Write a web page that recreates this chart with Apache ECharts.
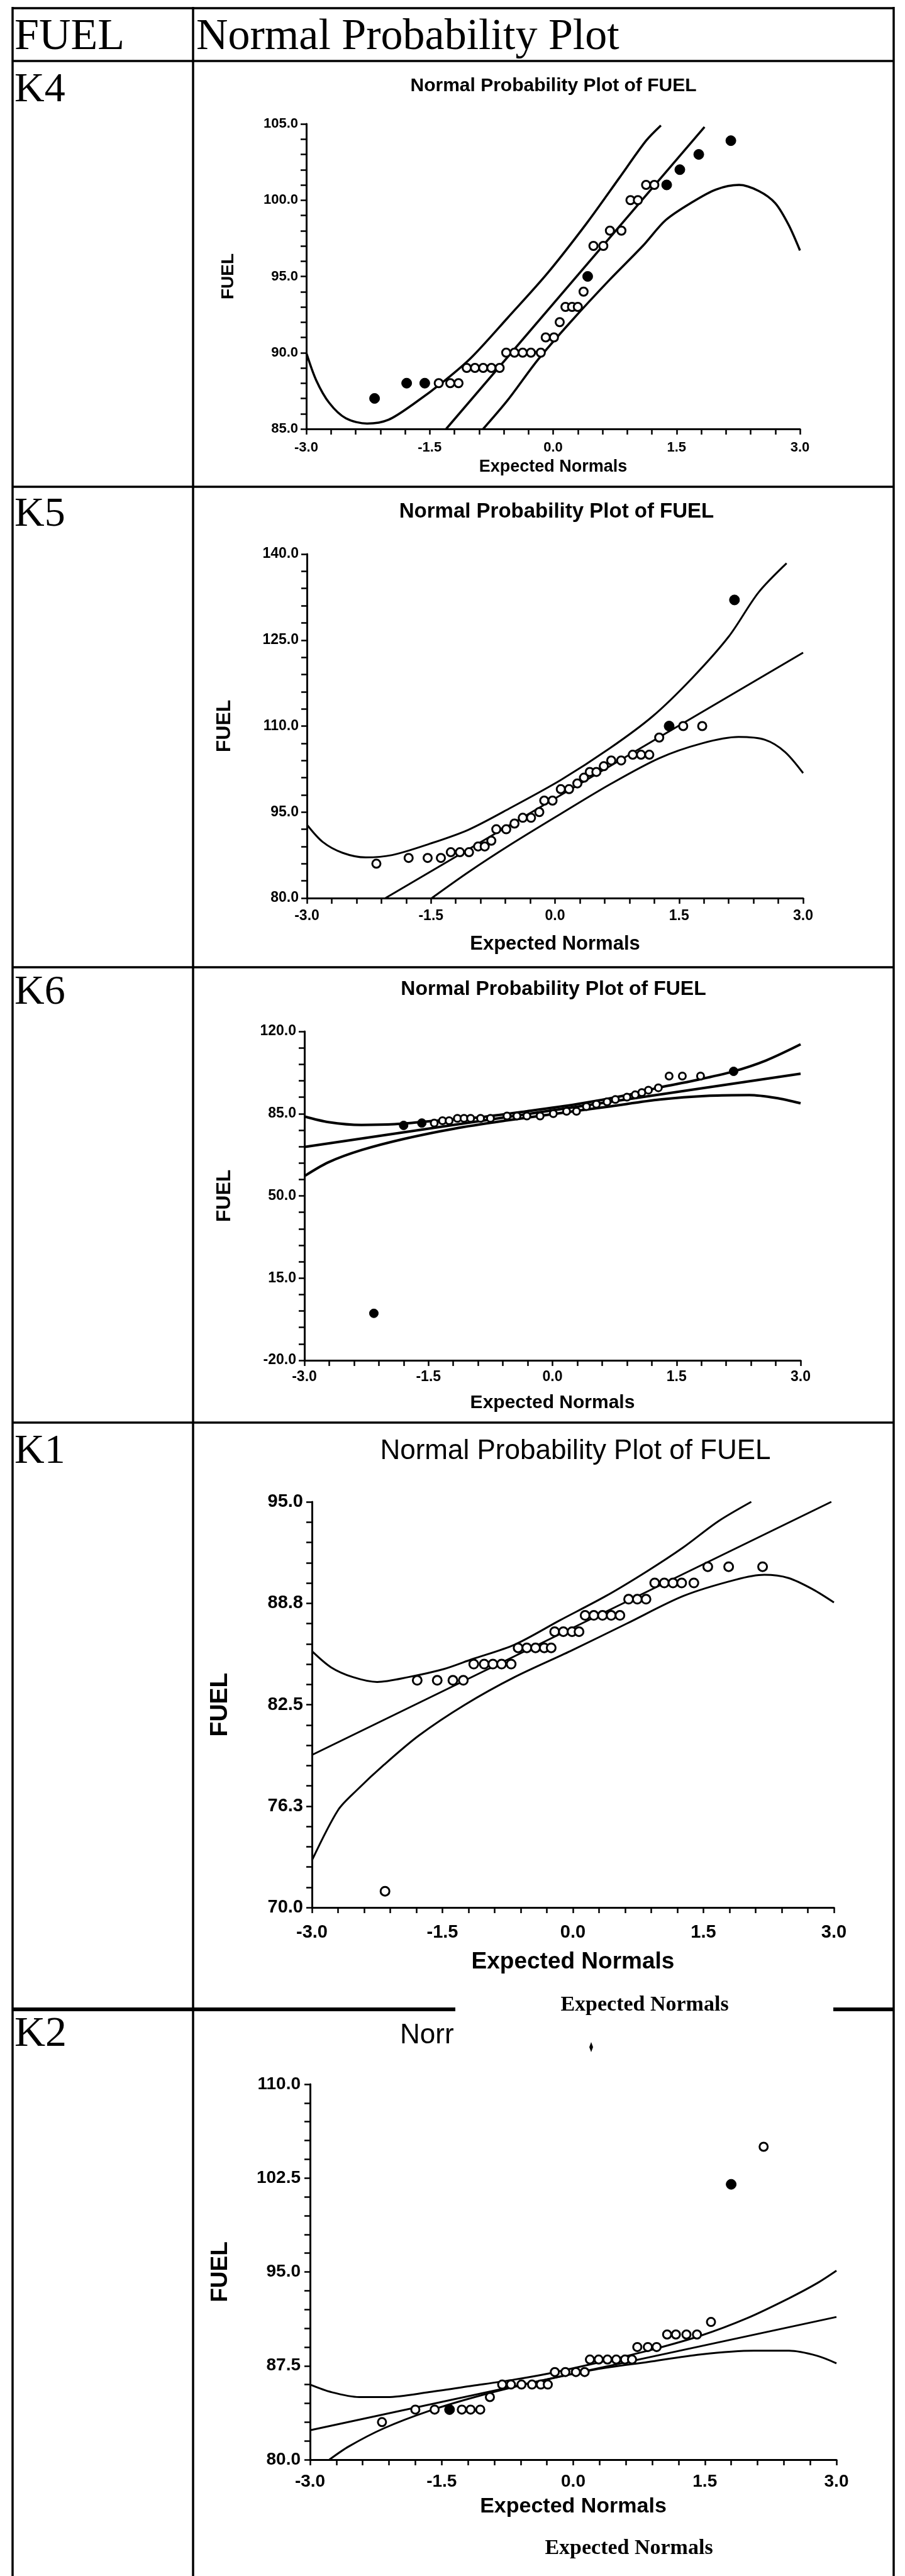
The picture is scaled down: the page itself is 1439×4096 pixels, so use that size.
<!DOCTYPE html>
<html>
<head>
<meta charset="utf-8">
<title>FUEL - Normal Probability Plot</title>
<script src="https://cdn.jsdelivr.net/npm/echarts@6.0.0/dist/echarts.min.js"></script>
<style>
  html, body { margin: 0; padding: 0; background: #fff; }
  #chart { width: 1439px; height: 4096px; }
</style>
</head>
<body>
<div id="chart"></div>
<script>
// values: [expected normal, FUEL]
const xTickLabels = [-3, -1.5, 0, 1.5, 3];

// K4
const k4YTicks = [85, 90, 95, 100, 105];
const k4Open = [[-1.39, 88], [-1.25, 88], [-1.15, 88], [-1.05, 89], [-0.95, 89], [-0.85, 89], [-0.75, 89], [-0.65, 89],
  [-0.57, 90], [-0.47, 90], [-0.37, 90], [-0.27, 90], [-0.15, 90], [-0.09, 91], [0.01, 91], [0.08, 92],
  [0.15, 93], [0.23, 93], [0.30, 93], [0.37, 94], [0.49, 97], [0.61, 97], [0.69, 98], [0.83, 98],
  [0.94, 100], [1.03, 100], [1.13, 101], [1.23, 101]];
const k4Filled = [[-2.17, 87], [-1.78, 88], [-1.56, 88], [0.42, 95], [1.38, 101], [1.54, 102], [1.77, 103], [2.16, 103.9]];
const k4Upper = [[-3, 90.0], [-2.88, 88.2], [-2.72, 86.7], [-2.52, 85.7], [-2.26, 85.35], [-2.0, 85.6], [-1.68, 86.7],
  [-1.31, 88.2], [-0.99, 89.7], [-0.55, 92.3], [-0.07, 95.2], [0.41, 98.5], [0.81, 101.5], [1.13, 103.9], [1.31, 104.9]];
const k4Fit = [[-1.30, 85], [1.84, 104.8]];
const k4Lower = [[-0.85, 85], [-0.55, 86.9], [-0.19, 89.5], [0.21, 92.0], [0.69, 94.8], [1.09, 97.0], [1.37, 98.7],
  [1.70, 99.9], [1.98, 100.7], [2.26, 101.0], [2.50, 100.6], [2.70, 99.8], [2.86, 98.4], [3.0, 96.7]];

// K5
const k5YTicks = [80, 95, 110, 125, 140];
const k5Open = [[-2.16, 86], [-1.77, 87], [-1.54, 87], [-1.38, 87], [-1.26, 88], [-1.15, 88], [-1.04, 88], [-0.93, 89],
  [-0.85, 89], [-0.77, 90], [-0.71, 92], [-0.59, 92], [-0.49, 93], [-0.39, 94], [-0.29, 94], [-0.19, 95],
  [-0.13, 97], [-0.03, 97], [0.07, 99], [0.17, 99], [0.27, 100], [0.35, 101], [0.42, 102], [0.50, 102],
  [0.59, 103], [0.68, 104], [0.80, 104], [0.94, 105], [1.04, 105], [1.14, 105], [1.26, 108], [1.55, 110], [1.78, 110]];
const k5Filled = [[1.38, 110], [2.17, 132]];
const k5Upper = [[-3, 92.8], [-2.81, 89.8], [-2.57, 87.9], [-2.29, 87.1], [-1.97, 87.5], [-1.53, 89.4], [-1.05, 91.9],
  [-0.53, 95.8], [0.07, 100.6], [0.66, 106.1], [1.18, 111.7], [1.66, 118.4], [2.10, 125.6], [2.46, 133.3], [2.80, 138.4]];
const k5Fit = [[-2.05, 80], [3, 122.8]];
const k5Lower = [[-1.49, 80], [-1.05, 84.5], [-0.53, 89.4], [0.07, 94.7], [0.66, 99.8], [1.26, 104.4], [1.78, 107.0],
  [2.22, 108.1], [2.54, 107.6], [2.78, 105.5], [3.0, 101.8]];

// K6
const k6YTicks = [-20, 15, 50, 85, 120];
const k6Open = [[-1.43, 81], [-1.33, 82], [-1.25, 82], [-1.15, 83], [-1.07, 83], [-0.99, 83], [-0.87, 83], [-0.75, 83],
  [-0.55, 84], [-0.43, 84], [-0.31, 84], [-0.15, 84], [0.01, 85], [0.17, 86], [0.29, 86], [0.41, 88],
  [0.53, 89], [0.66, 90], [0.76, 91], [0.90, 92], [1.00, 93], [1.08, 94], [1.16, 95], [1.28, 96],
  [1.41, 101], [1.57, 101], [1.79, 101]];
const k6Filled = [[-2.16, 0], [-1.80, 80], [-1.58, 81], [2.19, 103]];
const k6Upper = [[-3, 83.8], [-2.71, 81.4], [-2.31, 80.2], [-1.91, 80.5], [-1.43, 81.9], [-0.91, 83.3], [-0.31, 86.0],
  [0.29, 89.0], [0.90, 92.9], [1.30, 96.2], [1.70, 99.0], [2.18, 102.9], [2.58, 107.6], [3.0, 114.5]];
const k6Fit = [[-3, 70.8], [3, 102.0]];
const k6Lower = [[-3, 58.4], [-2.71, 64.3], [-2.31, 69.5], [-1.79, 74.3], [-1.19, 78.6], [-0.55, 82.1], [0.09, 85.2],
  [0.70, 88.1], [1.30, 91.0], [1.90, 92.6], [2.38, 92.9], [2.70, 91.7], [3.0, 89.4]];

// K1
const k1YTicks = [70, 76.25, 82.5, 88.75, 95];
const k1Open = [[-2.16, 71], [-1.79, 84], [-1.56, 84], [-1.38, 84], [-1.26, 84], [-1.14, 85], [-1.02, 85], [-0.92, 85],
  [-0.82, 85], [-0.71, 85], [-0.63, 86], [-0.53, 86], [-0.43, 86], [-0.33, 86], [-0.25, 86], [-0.21, 87],
  [-0.11, 87], [-0.01, 87], [0.07, 87], [0.14, 88], [0.24, 88], [0.34, 88], [0.44, 88], [0.54, 88],
  [0.64, 89], [0.74, 89], [0.84, 89], [0.94, 90], [1.05, 90], [1.15, 90], [1.25, 90], [1.39, 90],
  [1.55, 91], [1.79, 91], [2.18, 91]];
const k1Filled = [];
const k1Upper = [[-3, 85.8], [-2.78, 84.8], [-2.53, 84.2], [-2.25, 83.9], [-1.89, 84.2], [-1.48, 84.7], [-1.16, 85.3],
  [-0.67, 86.2], [-0.15, 87.7], [0.38, 89.2], [0.86, 90.75], [1.27, 92.2], [1.67, 93.8], [2.05, 95]];
const k1Fit = [[-3, 79.4], [2.97, 95]];
const k1Lower = [[-3, 72.9], [-2.70, 76.0], [-2.49, 77.2], [-2.17, 78.8], [-1.77, 80.6], [-1.24, 82.5],
  [-0.67, 84.2], [-0.03, 85.8], [0.62, 87.5], [1.27, 89.2], [1.87, 90.2], [2.20, 90.5], [2.48, 90.3], [2.76, 89.6], [3.0, 88.8]];

// K2
const k2YTicks = [80, 87.5, 95, 102.5, 110];
const k2Open = [[-2.18, 83], [-1.80, 84], [-1.58, 84], [-1.27, 84], [-1.17, 84], [-1.06, 84], [-0.95, 85], [-0.81, 86],
  [-0.71, 86], [-0.59, 86], [-0.47, 86], [-0.37, 86], [-0.29, 86], [-0.21, 87], [-0.09, 87], [0.03, 87],
  [0.13, 87], [0.19, 88], [0.29, 88], [0.39, 88], [0.49, 88], [0.59, 88], [0.67, 88], [0.73, 89],
  [0.85, 89], [0.95, 89], [1.07, 90], [1.17, 90], [1.29, 90], [1.41, 90], [1.57, 91], [2.17, 105]];
const k2Filled = [[-1.41, 84], [1.80, 102]];
const k2Upper = [[-3, 86.0], [-2.76, 85.4], [-2.44, 85.0], [-2.12, 85.0], [-1.64, 85.4], [-1.15, 85.9], [-0.67, 86.4],
  [-0.27, 86.9], [0.25, 87.7], [0.85, 88.7], [1.45, 89.9], [1.98, 91.3], [2.46, 92.9], [2.78, 94.1], [3.0, 95.1]];
const k2Fit = [[-3, 82.35], [3, 91.4]];
const k2Lower = [[-2.78, 80], [-2.56, 81.05], [-2.16, 82.5], [-1.64, 83.9], [-1.07, 85.1], [-0.43, 86.2], [0.25, 87.2],
  [0.85, 87.8], [1.45, 88.4], [2.06, 88.7], [2.46, 88.7], [2.78, 88.3], [3.0, 87.7]];

const SANS = '"Liberation Sans", Arial, Helvetica, sans-serif';
const SERIF = '"Liberation Serif", "Times New Roman", serif';

// layout of each panel (px in the 1439 wide page)
const panels = [
  { grid: { left: 487, top: 197, width: 785, height: 485 }, yTicks: k4YTicks, open: k4Open, filled: k4Filled,
    upper: k4Upper, fit: k4Fit, lower: k4Lower, label: 22, xMargin: 19, yMargin: 13, xName: 27, xGap: 47, yName: 28, yGap: 110, sym: 13, lw: 3.5 },
  { grid: { left: 488, top: 881, width: 789, height: 547 }, yTicks: k5YTicks, open: k5Open, filled: k5Filled,
    upper: k5Upper, fit: k5Fit, lower: k5Lower, label: 23, xMargin: 17, yMargin: 13, xName: 31, xGap: 58, yName: 32, yGap: 115, sym: 13, lw: 3 },
  { grid: { left: 484, top: 1640, width: 789, height: 523 }, yTicks: k6YTicks, open: k6Open, filled: k6Filled,
    upper: k6Upper, fit: k6Fit, lower: k6Lower, label: 23, xMargin: 15, yMargin: 13, xName: 30, xGap: 53, yName: 32, yGap: 111, sym: 11, lw: 4 },
  { grid: { left: 496, top: 2388, width: 830, height: 645 }, yTicks: k1YTicks, open: k1Open, filled: k1Filled,
    upper: k1Upper, fit: k1Fit, lower: k1Lower, label: 29, xMargin: 25, yMargin: 14, xName: 37, xGap: 68, yName: 39, yGap: 126, sym: 14, lw: 3 },
  { grid: { left: 493, top: 3314, width: 837, height: 597 }, yTicks: k2YTicks, open: k2Open, filled: k2Filled,
    upper: k2Upper, fit: k2Fit, lower: k2Lower, label: 28, xMargin: 21, yMargin: 15, xName: 34, xGap: 58, yName: 37, yGap: 124, sym: 13, lw: 3 }
];

function steps(from, to, n) {
  const out = [];
  const d = (to - from) / n;
  for (let i = 0; i <= n; i++) out.push(+(from + d * i).toFixed(4));
  return out;
}

const grids = [], xAxes = [], yAxes = [], series = [];

panels.forEach((p, i) => {
  grids.push(Object.assign({ containLabel: false, outerBoundsMode: 'none' }, p.grid));
  const lbl = { color: '#000', fontFamily: SANS, fontWeight: 'bold', fontSize: p.label };
  const axisLine = { onZero: false, lineStyle: { color: '#000', width: 3 } };
  xAxes.push({
    type: 'value', gridIndex: i, min: -3, max: 3,
    axisLine,
    axisTick: { customValues: steps(-3, 3, 20), length: 9, lineStyle: { color: '#000', width: 2.5 } },
    axisLabel: Object.assign({ customValues: xTickLabels, margin: p.xMargin, formatter: (v) => v.toFixed(1) }, lbl),
    splitLine: { show: false },
    name: 'Expected Normals', nameLocation: 'middle', nameGap: p.xGap,
    nameTextStyle: { color: '#000', fontFamily: SANS, fontWeight: 'bold', fontSize: p.xName }
  });
  const yt = p.yTicks;
  yAxes.push({
    type: 'value', gridIndex: i, min: yt[0], max: yt[yt.length - 1],
    axisLine,
    axisTick: { customValues: steps(yt[0], yt[yt.length - 1], 20), length: 9, lineStyle: { color: '#000', width: 2.5 } },
    axisLabel: Object.assign({ customValues: yt, margin: p.yMargin, formatter: (v) => v.toFixed(1) }, lbl),
    splitLine: { show: false },
    name: 'FUEL', nameLocation: 'middle', nameGap: p.yGap,
    nameTextStyle: { color: '#000', fontFamily: SANS, fontWeight: 'bold', fontSize: p.yName }
  });
  const line = (data) => ({
    type: 'line', xAxisIndex: i, yAxisIndex: i, data, showSymbol: false, smooth: 0.3,
    lineStyle: { color: '#000', width: p.lw }, z: 2
  });
  series.push(line(p.upper), line(p.fit), line(p.lower));
  series.push({
    type: 'scatter', xAxisIndex: i, yAxisIndex: i, data: p.open, symbolSize: p.sym, z: 3,
    itemStyle: { color: '#fff', borderColor: '#000', borderWidth: 3, opacity: 1 }
  });
  series.push({
    type: 'scatter', xAxisIndex: i, yAxisIndex: i, data: p.filled, symbolSize: p.sym + 3, z: 3,
    itemStyle: { color: '#000', borderColor: '#000', borderWidth: 1, opacity: 1 }
  });
});

// table rules and loose texts of the scanned page
function rule(x1, y1, x2, y2, w) {
  return { type: 'line', silent: true, shape: { x1, y1, x2, y2 }, style: { stroke: '#000', lineWidth: w || 3.5 } };
}
function label(text, x, y, font, align) {
  return {
    type: 'text', silent: true, x, y,
    style: { text, fill: '#000', font, align: align || 'left', verticalAlign: 'middle',
      textAlign: align || 'left', textVerticalAlign: 'middle' }
  };
}

const graphic = [
  rule(20, 13, 1421, 13), rule(20, 97, 1421, 97), rule(20, 774, 1421, 774),
  rule(20, 1538, 1421, 1538), rule(20, 2262, 1421, 2262),
  rule(20, 3195, 724, 3195, 6), rule(1325, 3195, 1421, 3195, 6),
  rule(20, 11, 20, 4096), rule(307, 11, 307, 4096), rule(1421, 11, 1421, 4096),
  label('FUEL', 23, 60, '70px ' + SERIF),
  label('Normal Probability Plot', 312, 60, '70px ' + SERIF),
  label('K4', 23, 144, '66px ' + SERIF),
  label('K5', 23, 819, '66px ' + SERIF),
  label('K6', 23, 1579, '66px ' + SERIF),
  label('K1', 23, 2309, '66px ' + SERIF),
  label('K2', 23, 3235, '68px ' + SERIF),
  label('Normal Probability Plot of FUEL', 880, 137, 'bold 30px ' + SANS, 'center'),
  label('Normal Probability Plot of FUEL', 885, 814, 'bold 33px ' + SANS, 'center'),
  label('Normal Probability Plot of FUEL', 880, 1573, 'bold 32px ' + SANS, 'center'),
  label('Normal Probability Plot of FUEL', 915, 2308, '44px ' + SANS, 'center'),
  label('Norr', 636, 3237, '44px ' + SANS),
  label('Expected Normals', 1025, 3188, 'bold 34px ' + SERIF, 'center'),
  label('Expected Normals', 1000, 4052, 'bold 34px ' + SERIF, 'center'),
  { type: 'polygon', silent: true, shape: { points: [[940, 3247], [943, 3255], [940, 3263], [937, 3255]] }, style: { fill: '#000' } }
];

const chart = echarts.init(document.getElementById('chart'));
chart.setOption({
  animation: false,
  backgroundColor: '#fff',
  grid: grids,
  xAxis: xAxes,
  yAxis: yAxes,
  series,
  graphic
});
</script>
</body>
</html>
